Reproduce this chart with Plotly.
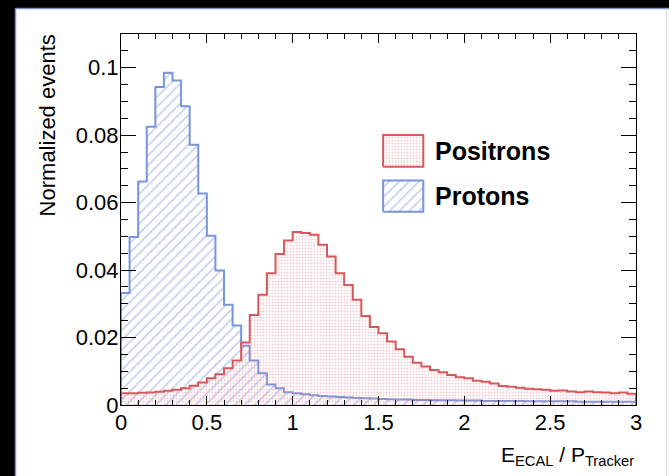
import numpy as np
import plotly.graph_objects as go

# Histogram binning: 60 bins of width 0.05 on E_ECAL / P_Tracker in [0, 3]
bin_edges = np.linspace(0.0, 3.0, 61)

positrons = [
    0.0035, 0.0035, 0.0036, 0.0037, 0.0039, 0.0042, 0.0045, 0.0050, 0.0057, 0.0067,
    0.0079, 0.0091, 0.0109, 0.0132, 0.0185, 0.0267, 0.0327, 0.0391, 0.0448, 0.0488,
    0.0513, 0.0510, 0.0505, 0.0475, 0.0440, 0.0391, 0.0356, 0.0312, 0.0264, 0.0231,
    0.0213, 0.0188, 0.0165, 0.0143, 0.0125, 0.0114, 0.0104, 0.0097, 0.0089, 0.0082,
    0.0079, 0.0072, 0.0069, 0.0064, 0.0056, 0.0054, 0.0051, 0.0048, 0.0047, 0.0045,
    0.0042, 0.0043, 0.0040, 0.0038, 0.0040, 0.0038, 0.0037, 0.0035, 0.0037, 0.0033,
]

protons = [
    0.0332, 0.0498, 0.0663, 0.0825, 0.0943, 0.0985, 0.0962, 0.0886, 0.0772, 0.0627,
    0.0502, 0.0399, 0.0297, 0.0236, 0.0176, 0.0132, 0.0094, 0.0061, 0.0050, 0.0038,
    0.0035, 0.0032, 0.0029, 0.0027, 0.0025, 0.0024, 0.0022, 0.0021, 0.0020, 0.0019,
    0.0018, 0.0017, 0.0016, 0.0016, 0.0015, 0.0015, 0.0014, 0.0014, 0.0014, 0.0013,
    0.0013, 0.0013, 0.0012, 0.0012, 0.0012, 0.0012, 0.0012, 0.0011, 0.0011, 0.0011,
    0.0011, 0.0011, 0.0011, 0.0010, 0.0010, 0.0010, 0.0010, 0.0010, 0.0010, 0.0010,
]

series_names = ["Positrons", "Protons"]
y_ticks = [0, 0.02, 0.04, 0.06, 0.08, 0.1]
y_tick_labels = ["0", "0.02", "0.04", "0.06", "0.08", "0.1"]
x_ticks = [0, 0.5, 1, 1.5, 2, 2.5, 3]
x_tick_labels = ["0", "0.5", "1", "1.5", "2", "2.5", "3"]

RED = "#d6585c"
BLUE = "#7894da"
FONT = "Liberation Sans, Arial, Helvetica, sans-serif"

RED_PATTERN = dict(shape=".", fgcolor="#e79a9c", bgcolor="rgba(0,0,0,0)",
                   size=3, solidity=0.3, fillmode="overlay")
BLUE_PATTERN = dict(shape="/", fgcolor=BLUE, bgcolor="rgba(0,0,0,0)",
                    size=7, solidity=0.22, fillmode="overlay")


def step_outline(edges, values):
    """Closed histogram outline for an hv-shaped line: up at the first edge, down at the last."""
    xs = [edges[0]] + list(edges[:-1]) + [edges[-1], edges[-1]]
    ys = [0.0] + list(values) + [values[-1], 0.0]
    return xs, ys


fig = go.Figure()

px_x, px_y = step_outline(bin_edges, protons)
fig.add_trace(go.Scatter(
    x=px_x, y=px_y, mode="lines", line=dict(color=BLUE, width=2, shape="hv"),
    fill="tozeroy", fillcolor="rgba(0,0,0,0)", fillpattern=BLUE_PATTERN,
    name=series_names[1], showlegend=False, hoverinfo="skip",
))

ex_x, ex_y = step_outline(bin_edges, positrons)
fig.add_trace(go.Scatter(
    x=ex_x, y=ex_y, mode="lines", line=dict(color=RED, width=2, shape="hv"),
    fill="tozeroy", fillcolor="rgba(0,0,0,0)", fillpattern=RED_PATTERN,
    name=series_names[0], showlegend=False, hoverinfo="skip",
))

# Legend boxes drawn on an overlay axis spanning the frame in unit coordinates
legend_boxes = [
    (series_names[0], RED, RED_PATTERN, 0.642, 0.728),
    (series_names[1], BLUE, BLUE_PATTERN, 0.521, 0.605),
]
bx0, bx1 = 0.509, 0.587
for name, col, pattern, y0, y1 in legend_boxes:
    fig.add_trace(go.Scatter(
        x=[bx0, bx1, bx1, bx0, bx0], y=[y0, y0, y1, y1, y0],
        xaxis="x2", yaxis="y2", mode="lines",
        line=dict(color=col, width=2), fill="toself", fillcolor="rgba(0,0,0,0)",
        fillpattern=pattern, showlegend=False, hoverinfo="skip",
    ))
    fig.add_annotation(
        x=0.606, y=(y0 + y1) / 2, xref="x2", yref="y2", text=name,
        showarrow=False, xanchor="left", yanchor="middle",
        font=dict(family=FONT, size=25, color="black", weight="bold"),
    )

axis_common = dict(
    showgrid=False, zeroline=False, showline=True, linecolor="black", linewidth=1,
    mirror="allticks", ticks="inside", tickcolor="black", tickwidth=1,
    tickfont=dict(family=FONT, size=22, color="black"),
)

# Canvas frame: dark band on the left and top edges, thin bluish border
frame_left = (15.5 - 121) / 515
frame_right = (666.5 - 121) / 515
frame_top = (405 - 8.5) / 371

fig.update_layout(
    width=669, height=476,
    margin=dict(l=121, r=33, t=34, b=71),
    paper_bgcolor="white", plot_bgcolor="white",
    xaxis=dict(range=[0, 3], tickvals=x_ticks, ticktext=x_tick_labels, ticklen=9,
               ticklabelstandoff=-2,
               minor=dict(dtick=0.1, ticks="inside", ticklen=5, tickcolor="black"),
               **axis_common),
    yaxis=dict(range=[0, 0.11], tickvals=y_ticks, ticktext=y_tick_labels, ticklen=15,
               ticklabelstandoff=-3,
               minor=dict(dtick=0.005, ticks="inside", ticklen=7, tickcolor="black"),
               **axis_common),
    xaxis2=dict(range=[0, 1], overlaying="x", visible=False),
    yaxis2=dict(range=[0, 1], overlaying="y", visible=False),
    shapes=[
        dict(type="rect", xref="paper", yref="paper", layer="above",
             x0=-0.5, x1=frame_left, y0=-0.5, y1=1.5,
             fillcolor="black", line=dict(width=0)),
        dict(type="rect", xref="paper", yref="paper", layer="above",
             x0=-0.5, x1=1.5, y0=frame_top, y1=1.5,
             fillcolor="black", line=dict(width=0)),
        dict(type="line", xref="paper", yref="paper", layer="above",
             x0=frame_left, x1=frame_left, y0=-0.5, y1=frame_top,
             line=dict(color="#7f8fc4", width=1.5)),
        dict(type="line", xref="paper", yref="paper", layer="above",
             x0=frame_left, x1=1.5, y0=frame_top, y1=frame_top,
             line=dict(color="#7f8fc4", width=1.5)),
        dict(type="line", xref="paper", yref="paper", layer="above",
             x0=frame_right, x1=frame_right, y0=-0.5, y1=frame_top,
             line=dict(color="#d8dbe6", width=1)),
    ],
)

# Axis titles, aligned to the far ends of the axes
fig.add_annotation(
    x=-0.1427, y=1.003, xref="paper", yref="paper", text="Normalized events",
    textangle=-90, showarrow=False, xanchor="center", yanchor="top",
    font=dict(family=FONT, size=22, color="black"),
)
fig.add_annotation(
    x=1.0, y=-0.137, xref="paper", yref="paper",
    text="E<sub>ECAL</sub> / P<sub>Tracker</sub>",
    showarrow=False, xanchor="right", yanchor="middle",
    font=dict(family=FONT, size=21, color="black"),
)

fig.write_html("out.html")
